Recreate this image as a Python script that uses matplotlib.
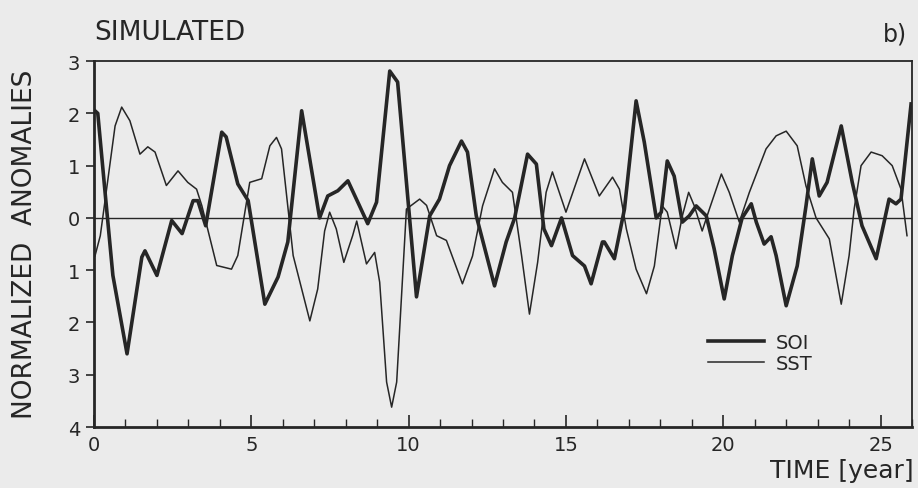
import matplotlib
matplotlib.use("Agg")
import matplotlib.pyplot as plt
from matplotlib.ticker import MultipleLocator, FuncFormatter

soi_t = [0.03, 0.12, 0.35, 0.6, 1.05, 1.52, 1.62, 2.0, 2.47, 2.8, 3.15, 3.3, 3.55, 4.06, 4.2, 4.57, 4.9,
         5.43, 5.85, 6.16, 6.6, 7.17, 7.43, 7.75, 8.07, 8.44, 8.7, 8.98, 9.4, 9.65, 10.25, 10.67, 10.98,
         11.3, 11.68, 11.87, 12.15, 12.73, 13.1, 13.37, 13.78, 14.06, 14.3, 14.54, 14.86, 15.21, 15.59,
         15.8, 16.16, 16.22, 16.54, 16.86, 17.23, 17.49, 17.87, 18.03, 18.22, 18.44, 18.7, 18.92, 19.14,
         19.46, 19.71, 20.03, 20.29, 20.6, 20.89, 21.05, 21.3, 21.52, 21.68, 22.0, 22.35, 22.63, 22.83,
         23.05, 23.3, 23.75, 24.1, 24.41, 24.86, 25.27, 25.49, 25.65, 25.97]
soi_v = [2.05, 2.0, 0.5, -1.1, -2.6, -0.75, -0.63, -1.1, -0.05, -0.3, 0.33, 0.33, -0.15, 1.64, 1.55, 0.65, 0.33,
         -1.65, -1.13, -0.46, 2.05, 0.0, 0.42, 0.52, 0.71, 0.23, -0.11, 0.3, 2.81, 2.6, -1.51, 0.04, 0.36,
         1.0, 1.47, 1.26, 0.04, -1.3, -0.46, 0.0, 1.22, 1.03, -0.21, -0.53, 0.0, -0.72, -0.92,
         -1.26, -0.46, -0.46, -0.78, 0.17, 2.24, 1.45, 0.0, 0.11, 1.09, 0.8, -0.08, 0.04, 0.23,
         0.04, -0.59, -1.55, -0.72, 0.0, 0.27, -0.08, -0.5, -0.36, -0.72, -1.68, -0.92, 0.23, 1.13,
         0.42, 0.68, 1.76, 0.68, -0.15, -0.78, 0.36, 0.27, 0.36, 2.18]

sst_t = [0.03, 0.2, 0.4, 0.67, 0.88, 1.14, 1.46, 1.71, 1.94, 2.3, 2.67, 2.98, 3.26, 3.43, 3.9, 4.37, 4.57,
         4.95, 5.33, 5.59, 5.8, 5.96, 6.33, 6.86, 7.11, 7.33, 7.49, 7.7, 7.94, 8.22, 8.35, 8.66, 8.92, 9.08,
         9.3, 9.46, 9.62, 9.93, 10.35, 10.57, 10.89, 11.2, 11.71, 12.03, 12.35, 12.73, 12.98, 13.3, 13.59,
         13.84, 14.1, 14.37, 14.57, 15.0, 15.33, 15.59, 16.06, 16.48, 16.7, 16.92, 17.23, 17.56, 17.81,
         18.06, 18.22, 18.5, 18.7, 18.9, 19.08, 19.33, 19.56, 19.94, 20.19, 20.51, 20.83, 21.36, 21.68,
         22.0, 22.35, 22.63, 22.95, 23.37, 23.75, 24.0, 24.16, 24.38, 24.7, 25.05, 25.37, 25.65, 25.84]
sst_v = [-0.73, -0.34, 0.55, 1.76, 2.12, 1.86, 1.22, 1.36, 1.26, 0.62, 0.9, 0.68, 0.55, 0.23, -0.91, -0.98, -0.72,
         0.68, 0.75, 1.38, 1.54, 1.32, -0.72, -1.97, -1.36, -0.25, 0.11, -0.21, -0.85, -0.34, -0.06, -0.88, -0.66, -1.23,
         -3.14, -3.62, -3.14, 0.17, 0.36, 0.24, -0.34, -0.43, -1.26, -0.73, 0.23, 0.94, 0.68, 0.49, -0.72,
         -1.84, -0.85, 0.49, 0.88, 0.11, 0.68, 1.13, 0.42, 0.78, 0.55, -0.21, -0.98, -1.45, -0.92,
         0.23, 0.11, -0.59, 0.04, 0.49, 0.23, -0.25, 0.17, 0.84, 0.49, -0.08, 0.49, 1.32, 1.57,
         1.66, 1.38, 0.61, 0.0, -0.4, -1.65, -0.72, 0.17, 1.0, 1.26, 1.19, 1.0, 0.55, -0.34]

bg = "#ebebeb"
ink = "#262626"

fig = plt.figure(figsize=(9.18, 4.89), dpi=100, facecolor=bg)
ax = fig.add_axes([0.1024, 0.1247, 0.8911, 0.7483], facecolor=bg)

ax.plot(soi_t, soi_v, color=ink, lw=2.6, label="SOI", solid_joinstyle="round")
ax.plot(sst_t, sst_v, color=ink, lw=1.1, label="SST", solid_joinstyle="round")
ax.axhline(0, color=ink, lw=1.0)

ax.set_xlim(0, 26)
ax.set_ylim(-4, 3)
ax.xaxis.set_major_locator(MultipleLocator(5))
ax.xaxis.set_minor_locator(MultipleLocator(1))
ax.yaxis.set_major_locator(MultipleLocator(1))
ax.yaxis.set_major_formatter(FuncFormatter(lambda v, p: f"{abs(int(round(v)))}"))
ax.tick_params(axis="x", which="major", direction="in", length=9, width=1.2, labelsize=14, colors=ink, pad=6)
ax.tick_params(axis="x", which="minor", direction="in", length=6, width=1.0, colors=ink)
ax.tick_params(axis="y", which="major", direction="out", length=6, width=1.2, labelsize=14, colors=ink, pad=4)
for s in ax.spines.values():
    s.set_color(ink)
    s.set_linewidth(1.3)
ax.spines["left"].set_linewidth(2.0)
ax.spines["bottom"].set_linewidth(2.0)

leg = ax.legend(loc="lower right", bbox_to_anchor=(0.90, 0.10), frameon=False, fontsize=14,
                handlelength=2.9, labelspacing=0.1, handletextpad=0.6, labelcolor=ink)

fig.text(0.103, 0.905, "SIMULATED", fontsize=19, color=ink, ha="left", va="bottom")
fig.text(0.988, 0.905, "b)", fontsize=17, color=ink, ha="right", va="bottom")
fig.text(0.027, 0.50, "NORMALIZED  ANOMALIES", fontsize=19, color=ink, rotation=90, ha="center", va="center")
fig.text(0.995, 0.012, "TIME [year]", fontsize=18, color=ink, ha="right", va="bottom")

fig.savefig("out.png", dpi=100, facecolor=bg)
